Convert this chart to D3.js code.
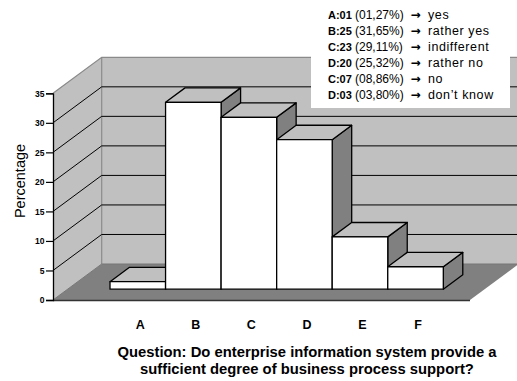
<!DOCTYPE html>
<html>
<head>
<meta charset="utf-8">
<script src="https://cdn.jsdelivr.net/npm/d3@7"></script>
<style>
  html, body { margin: 0; padding: 0; background: #fff; }
  svg { display: block; font-family: Arial, "Liberation Sans", sans-serif; }
</style>
</head>
<body>
<div id="chart"></div>
<script>
// Survey answers: category letters and their share of responses (%)
const categories = ["A", "B", "C", "D", "E", "F"];
const percentages = [1.27, 31.65, 29.11, 25.32, 8.86, 3.80];

// Legend rows
const legendCodes = ["A:01", "B:25", "C:23", "D:20", "C:07", "D:03"];
const legendShares = ["(01,27%)", "(31,65%)", "(29,11%)", "(25,32%)", "(08,86%)", "(03,80%)"];
const legendAnswers = ["yes", "rather yes", "indifferent", "rather no", "no", "don\u2019t know"];

const yTicks = [0, 5, 10, 15, 20, 25, 30, 35];
const titleLines = [
  "Question: Do enterprise information system provide a",
  "sufficient degree of business process support?"
];

const W = 517, H = 381;
const svg = d3.select("#chart").append("svg")
  .attr("width", W).attr("height", H);

// Front plane of the 3-D box and its depth offset
const X0 = 53, X1 = 470;
const DX = 48.7, DY = 36;
const y = d3.scaleLinear().domain([0, 35]).range([300, 93.3]);
const x = d3.scaleBand().domain(categories).range([95.4, 428.7]).padding(0);

// Depth of the bars (fraction of the box depth)
const Z0 = 0.3, Z1 = 0.7;

// Oblique projection: front-plane x, value, depth fraction -> screen point
const P = (px, v, z) => [px + z * DX, y(v) - z * DY];
const poly = pts => "M" + pts.map(p => p.join(",")).join("L") + "Z";
const line = d3.line();

const box = svg.append("g");
// Left side wall
box.append("path")
  .attr("d", poly([P(X0, 0, 0), P(X0, 35, 0), P(X0, 35, 1), P(X0, 0, 1)]))
  .attr("fill", "#c0c0c0");
// Back wall
box.append("path")
  .attr("d", poly([P(X0, 0, 1), P(X0, 35, 1), P(X1, 35, 1), P(X1, 0, 1)]))
  .attr("fill", "#c0c0c0");
// Floor
box.append("path")
  .attr("d", poly([P(X0, 0, 0), P(X1, 0, 0), P(X1, 0, 1), P(X0, 0, 1)]))
  .attr("fill", "#808080");

// Wall edges
box.append("path").attr("d", line([P(X0, 35, 0), P(X0, 35, 1), P(X1, 35, 1)]))
  .attr("fill", "none").attr("stroke", "#8a8a8a").attr("stroke-width", 1.2);
box.append("path").attr("d", line([P(X0, 35, 1), P(X0, 0, 1)]))
  .attr("fill", "none").attr("stroke", "#8a8a8a").attr("stroke-width", 1.2);
box.append("path").attr("d", line([P(X0, 0, 0), P(X0, 0, 1), P(X1, 0, 1)]))
  .attr("fill", "none").attr("stroke", "#777").attr("stroke-width", 1);

// Gridlines on side and back walls
yTicks.filter(t => t > 0 && t < 35).forEach(t => {
  box.append("path")
    .attr("d", line([P(X0, t, 0), P(X0, t, 1), P(X1, t, 1)]))
    .attr("fill", "none").attr("stroke", "#000").attr("stroke-width", 1);
});

// Front floor edge and value axis
box.append("line")
  .attr("x1", X0).attr("x2", X1).attr("y1", y(0) + 0.5).attr("y2", y(0) + 0.5)
  .attr("stroke", "#333").attr("stroke-width", 1.3);

const yAxis = d3.axisLeft(y).tickValues(yTicks).tickSize(7).tickPadding(1.5)
  .tickFormat(d3.format("d"));
const gy = svg.append("g").attr("transform", `translate(${X0},0)`).call(yAxis);
gy.select(".domain").attr("stroke", "#000").attr("stroke-width", 1.3);
gy.selectAll(".tick line").attr("stroke", "#000").attr("stroke-width", 1.2);
gy.selectAll(".tick text")
  .attr("font-family", "Arial, 'Liberation Sans', sans-serif")
  .attr("font-size", 8.5).attr("font-weight", "bold").attr("fill", "#000");

// 3-D columns, drawn left to right so each front face hides its neighbour's side
const bars = svg.append("g");
categories.forEach((c, i) => {
  const v = percentages[i];
  const l = x(c), r = x(c) + x.bandwidth();
  const g = bars.append("g");
  g.append("path")  // right side
    .attr("d", poly([P(r, 0, Z0), P(r, v, Z0), P(r, v, Z1), P(r, 0, Z1)]))
    .attr("fill", "#808080");
  g.append("path")  // top
    .attr("d", poly([P(l, v, Z0), P(r, v, Z0), P(r, v, Z1), P(l, v, Z1)]))
    .attr("fill", "#c0c0c0");
  g.append("path")  // front
    .attr("d", poly([P(l, 0, Z0), P(r, 0, Z0), P(r, v, Z0), P(l, v, Z0)]))
    .attr("fill", "#fff");
  g.selectAll("path")
    .attr("stroke", "#000").attr("stroke-width", 1.3).attr("stroke-linejoin", "round");
});

// Category labels
svg.append("g").selectAll("text").data(categories).join("text")
  .attr("x", d => P(x(d) + x.bandwidth() / 2, 0, Z0)[0] + 2.5)
  .attr("y", 329)
  .attr("text-anchor", "middle")
  .attr("font-size", 12.5).attr("font-weight", "bold")
  .text(d => d);

// Axis title
svg.append("text")
  .attr("transform", "translate(25,181) rotate(-90)")
  .attr("text-anchor", "middle")
  .attr("font-size", 14.5)
  .text("Percentage");

// Chart title
svg.append("g").selectAll("text").data(titleLines).join("text")
  .attr("x", 307).attr("y", (d, i) => 357 + i * 16.7)
  .attr("text-anchor", "middle")
  .attr("font-size", 14.8).attr("font-weight", "bold")
  .text(d => d);

// Legend
const lg = svg.append("g");
lg.append("rect").attr("x", 311).attr("y", 0).attr("width", 199).attr("height", 108)
  .attr("fill", "#fff");
const rows = lg.selectAll("g.row").data(legendCodes).join("g")
  .attr("class", "row")
  .attr("transform", (d, i) => `translate(0,${19.3 + i * 15.9})`)
  .attr("font-size", 11.8);
rows.append("text").attr("x", 328).attr("font-weight", "bold")
  .attr("font-size", 11).text(d => d);
rows.append("text").attr("x", 355).attr("font-size", 12).text((d, i) => legendShares[i]);
rows.append("text").attr("x", 410.5)
  .attr("font-family", "'DejaVu Sans', sans-serif").attr("font-size", 12)
  .attr("font-weight", "bold")
  .text("\u2192");
rows.append("text").attr("x", 428).attr("font-size", 12.5)
  .attr("letter-spacing", 0.6)
  .text((d, i) => legendAnswers[i]);
</script>
</body>
</html>
